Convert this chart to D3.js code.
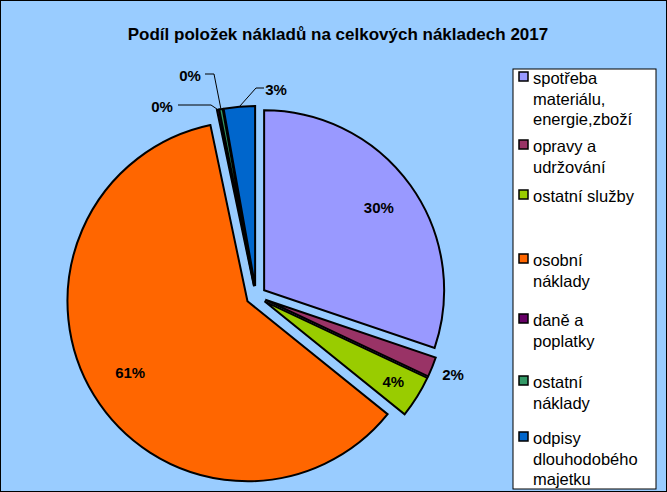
<!DOCTYPE html>
<html><head><meta charset="utf-8">
<script src="https://cdn.jsdelivr.net/npm/d3@7"></script>
<style>body{margin:0}svg{display:block}text{font-family:Arial,"Liberation Sans",sans-serif}</style>
</head><body><svg id="c" width="667" height="492"></svg>
<script>
const categories=["spotřeba materiálu, energie,zboží","opravy a udržování","ostatní služby","osobní náklady","daně a poplatky","ostatní náklady","odpisy dlouhodobého majetku"];
const values=[30.2,1.8,3.8,60.9,0.2,0.3,2.8];
const labels=["30%","2%","4%","61%","0%","0%","3%"];
const colors=["#9999FF","#993366","#99CC00","#FF6600","#660066","#339966","#0066CC"];
const legendLines=[["spotřeba","materiálu,","energie,zboží"],["opravy a","udržování"],["ostatní služby"],["osobní","náklady"],["daně a","poplatky"],["ostatní","náklady"],["odpisy","dlouhodobého","majetku"]];

const svg=d3.select("#c");
svg.append("rect").attr("x",0.5).attr("y",0.5).attr("width",666).attr("height",491).attr("fill","#99CCFF").attr("stroke","#000");
svg.append("text").attr("x",338).attr("y",40).attr("text-anchor","middle").attr("font-size",17).attr("font-weight","bold").text("Podíl položek nákladů na celkových nákladech 2017");

const cx=256,cy=296,r=180,ex=10;
const pie=d3.pie().sort(null).value(d=>d)(values);
const arc=d3.arc().innerRadius(0).outerRadius(r);
const g=svg.append("g").attr("transform",`translate(${cx},${cy})`);
const pol=(a,d)=>[Math.sin(a)*d,-Math.cos(a)*d];
pie.forEach((p,i)=>{
  const m=(p.startAngle+p.endAngle)/2, o=pol(m,ex);
  g.append("path").attr("d",arc(p)).attr("transform",`translate(${o})`).attr("fill",colors[i]).attr("stroke","#000").attr("stroke-width",2);
});
const lab=[0.84,1.18,0.9,0.82,0,0,0];
pie.forEach((p,i)=>{
  const m=(p.startAngle+p.endAngle)/2;
  if(lab[i]){
    const [x,y]=pol(m,r*lab[i]);
    g.append("text").attr("x",x).attr("y",y+5).attr("text-anchor","middle").attr("font-size",15).attr("font-weight","bold").text(labels[i]);
  }
});
const small=[[4,[-78,-191],[-45,-191],-94,-189],[5,[-51,-222],[-42,-222],-66,-220],[6,[8,-208],[0,-208],20,-206]];
small.forEach(([i,a,b,tx,ty])=>{
  const p=pie[i],m=(p.startAngle+p.endAngle)/2,e=pol(m,r+ex);
  g.append("polyline").attr("points",[a,b,e].map(q=>q.join(",")).join(" ")).attr("fill","none").attr("stroke","#000").attr("stroke-width",1);
  g.append("text").attr("x",tx).attr("y",ty+5).attr("text-anchor","middle").attr("font-size",15).attr("font-weight","bold").text(labels[i]);
});
const lx=513,ly=69;
svg.append("rect").attr("x",lx).attr("y",ly).attr("width",143).attr("height",420).attr("fill","#fff").attr("stroke","#000");
const starts=[78,146,196,260,320,382,438];
legendLines.forEach((ls,i)=>{
  const y=starts[i];
  svg.append("rect").attr("x",519).attr("y",y-6).attr("width",9).attr("height",9).attr("fill",colors[i]).attr("stroke","#000").attr("stroke-width",1.5);
  ls.forEach((t,j)=>svg.append("text").attr("x",533).attr("y",y+6+j*20.5).attr("font-size",16.5).text(t));
});
</script></body></html>
